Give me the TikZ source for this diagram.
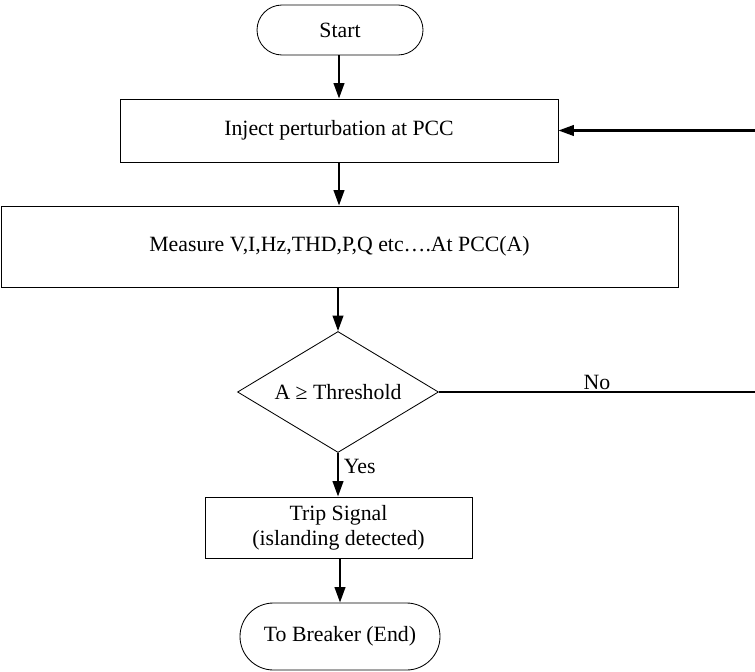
\documentclass[tikz,border=0pt]{standalone}
\usepackage{fontspec}
\setmainfont{Liberation Serif}
\usepackage{tikz}
\usetikzlibrary{shapes,arrows.meta,positioning,calc}
\newcommand{\chartfont}{\fontsize{15.5}{17.5}\selectfont}
\tikzstyle{term} = [rounded rectangle,draw,line width=0.6pt,inner sep=0pt,font=\chartfont]
\tikzstyle{proc} = [rectangle,draw,line width=0.6pt,inner sep=0pt,align=center,font=\chartfont]
\tikzstyle{dec} = [diamond,draw,line width=0.6pt,inner sep=0pt,aspect=1.66,font=\chartfont]
\tikzstyle{flow} = [-{Triangle[length=11pt,width=7.5pt]},line width=1.6pt]
\tikzset{>=latex}

\begin{document}
\begin{tikzpicture}
    \useasboundingbox (0,0) rectangle (18.875,-16.8);

    \node [term,minimum width=4.15cm,minimum height=1.25cm] (start) at (8.5,-0.75) {Start};
    \node [proc,minimum width=10.95cm,minimum height=1.575cm] (inject) at (8.475,-3.2625) {Inject perturbation at PCC};
    \node [proc,minimum width=16.925cm,minimum height=2.025cm] (measure) at (8.4875,-6.1625) {Measure V,I,Hz,THD,P,Q etc….At PCC(A)};
    \node [dec,minimum width=5.025cm,minimum height=3.025cm] (check) at (8.45,-9.8) {A ≥ Threshold};
    \node [proc,minimum width=6.675cm,minimum height=1.525cm] (trip) at (8.4625,-13.1875) {Trip Signal\\(islanding detected)};
    \node [term,minimum width=5cm,minimum height=1.675cm] (stop) at (8.5,-15.9125) {To Breaker (End)};

    \coordinate (noend) at (18.875,-9.8);
    \coordinate (back) at (18.875,-3.2625);

    \draw [flow] (start.south -| inject.north) -- (inject.north);
    \draw [flow] (inject.south) -- (measure.north -| inject.south);
    \draw [flow] (measure.south -| check.north) -- (check.north);
    \draw [flow] (check.south) -- node [pos=0.3,right,font=\chartfont] {Yes} (trip.north -| check.south);
    \draw [flow] (trip.south -| stop.north) -- (stop.north);

    \draw [line width=1.6pt] (check.east) -- node [above,inner sep=1pt,font=\chartfont] {No} (noend);
    \draw [flow] (back) -- (inject.east);
\end{tikzpicture}
\end{document}
